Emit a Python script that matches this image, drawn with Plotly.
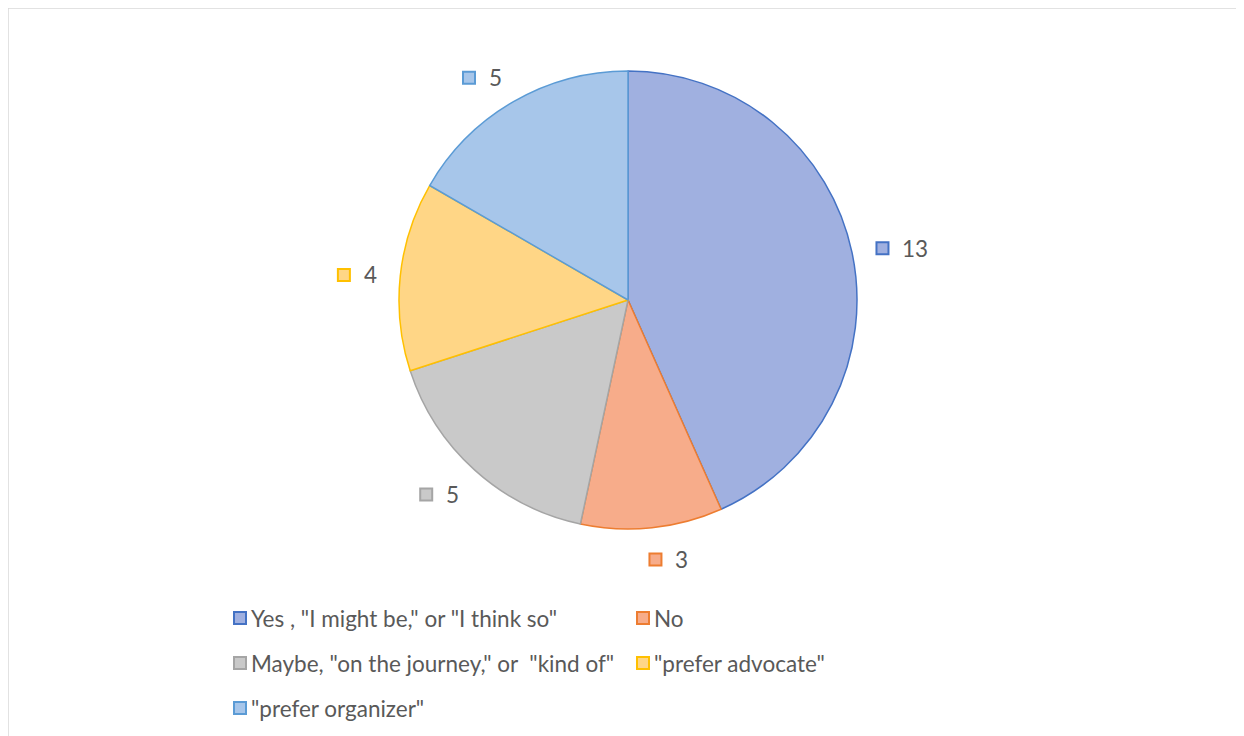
import math
import plotly.graph_objects as go

categories = ['Yes , "I might be," or "I think so"', 'No',
              'Maybe, "on the journey," or  "kind of"', '"prefer advocate"',
              '"prefer organizer"']
values = [13, 3, 5, 4, 5]
fill_colors = ['#A0B0E0', '#F7AC8A', '#C9C9C9', '#FFD686', '#A7C6EA']
line_colors = ['#4472C4', '#ED7D31', '#A5A5A5', '#FFC000', '#5B9BD5']

OFF = 8  # page body margin
W, H = 1244 - OFF, 736 - OFF
CX, CY, R = 628 - OFF, 300 - OFF, 229
TEXT_COLOR = '#595959'
FONT = 'Lato'
FS = 22.5

fig = go.Figure()

fig.add_trace(go.Pie(
    labels=categories, values=values, sort=False, direction='clockwise',
    rotation=0, textinfo='none', hoverinfo='label+value',
    marker=dict(colors=fill_colors, line=dict(color=line_colors, width=1.5)),
    domain=dict(x=[(CX - R) / W, (CX + R) / W],
                y=[1 - (CY + R) / H, 1 - (CY - R) / H]),
    showlegend=False,
))


def clip(v):
    return max(-1.0, min(1.0, v))


# data labels: a box (key square + value) placed just outside each slice's mid-angle
total = sum(values)
cum = 0
lab_x, lab_y = [], []
annotations = []
GAP = 24
for v in values:
    mid = (cum + v / 2) / total * 2 * math.pi
    cum += v
    s, c = math.sin(mid), math.cos(mid)
    ax = CX + (R + GAP) * s
    ay = CY - (R + GAP) * c
    bw = 28 + 11.5 * len(str(v))
    bcx = ax + bw / 2 * clip(s / 0.15)
    bcy = ay - 6 * c + 2
    left = bcx - bw / 2
    lab_x.append(left + 7)
    lab_y.append(bcy)
    annotations.append(dict(x=left + 25, y=bcy, xref='x', yref='y', text=str(v),
                            showarrow=False, xanchor='left', yanchor='middle',
                            font=dict(size=FS, color=TEXT_COLOR, family=FONT)))

fig.add_trace(go.Scatter(
    x=lab_x, y=lab_y, mode='markers', hoverinfo='skip', showlegend=False,
    marker=dict(symbol='square', size=12, color=fill_colors,
                line=dict(color=line_colors, width=2)),
))

# manual legend (two columns)
col_x = [240 - OFF, 643 - OFF]
row_y = [618 - OFF, 663 - OFF, 708 - OFF]
leg_x, leg_y = [], []
for i, name in enumerate(categories):
    lx = col_x[i % 2]
    ly = row_y[i // 2]
    leg_x.append(lx)
    leg_y.append(ly)
    annotations.append(dict(x=lx + 9, y=ly, xref='x', yref='y', text=name,
                            showarrow=False, xanchor='left', yanchor='middle',
                            font=dict(size=FS, color=TEXT_COLOR, family=FONT)))

fig.add_trace(go.Scatter(
    x=leg_x, y=leg_y, mode='markers', hoverinfo='skip', showlegend=False,
    marker=dict(symbol='square', size=12, color=fill_colors,
                line=dict(color=line_colors, width=2)),
))

fig.update_layout(
    width=W, height=H, margin=dict(l=0, r=0, t=0, b=0),
    paper_bgcolor='white', plot_bgcolor='rgba(0,0,0,0)',
    xaxis=dict(range=[0, W], visible=False, fixedrange=True),
    yaxis=dict(range=[H, 0], visible=False, fixedrange=True),
    annotations=annotations,
    shapes=[dict(type='rect', xref='x', yref='y', x0=0, y0=0, x1=W + 50, y1=H + 50,
                 line=dict(color='#D9D9D9', width=1.5), fillcolor='rgba(0,0,0,0)',
                 layer='below')],
)

fig.write_html('out.html')
